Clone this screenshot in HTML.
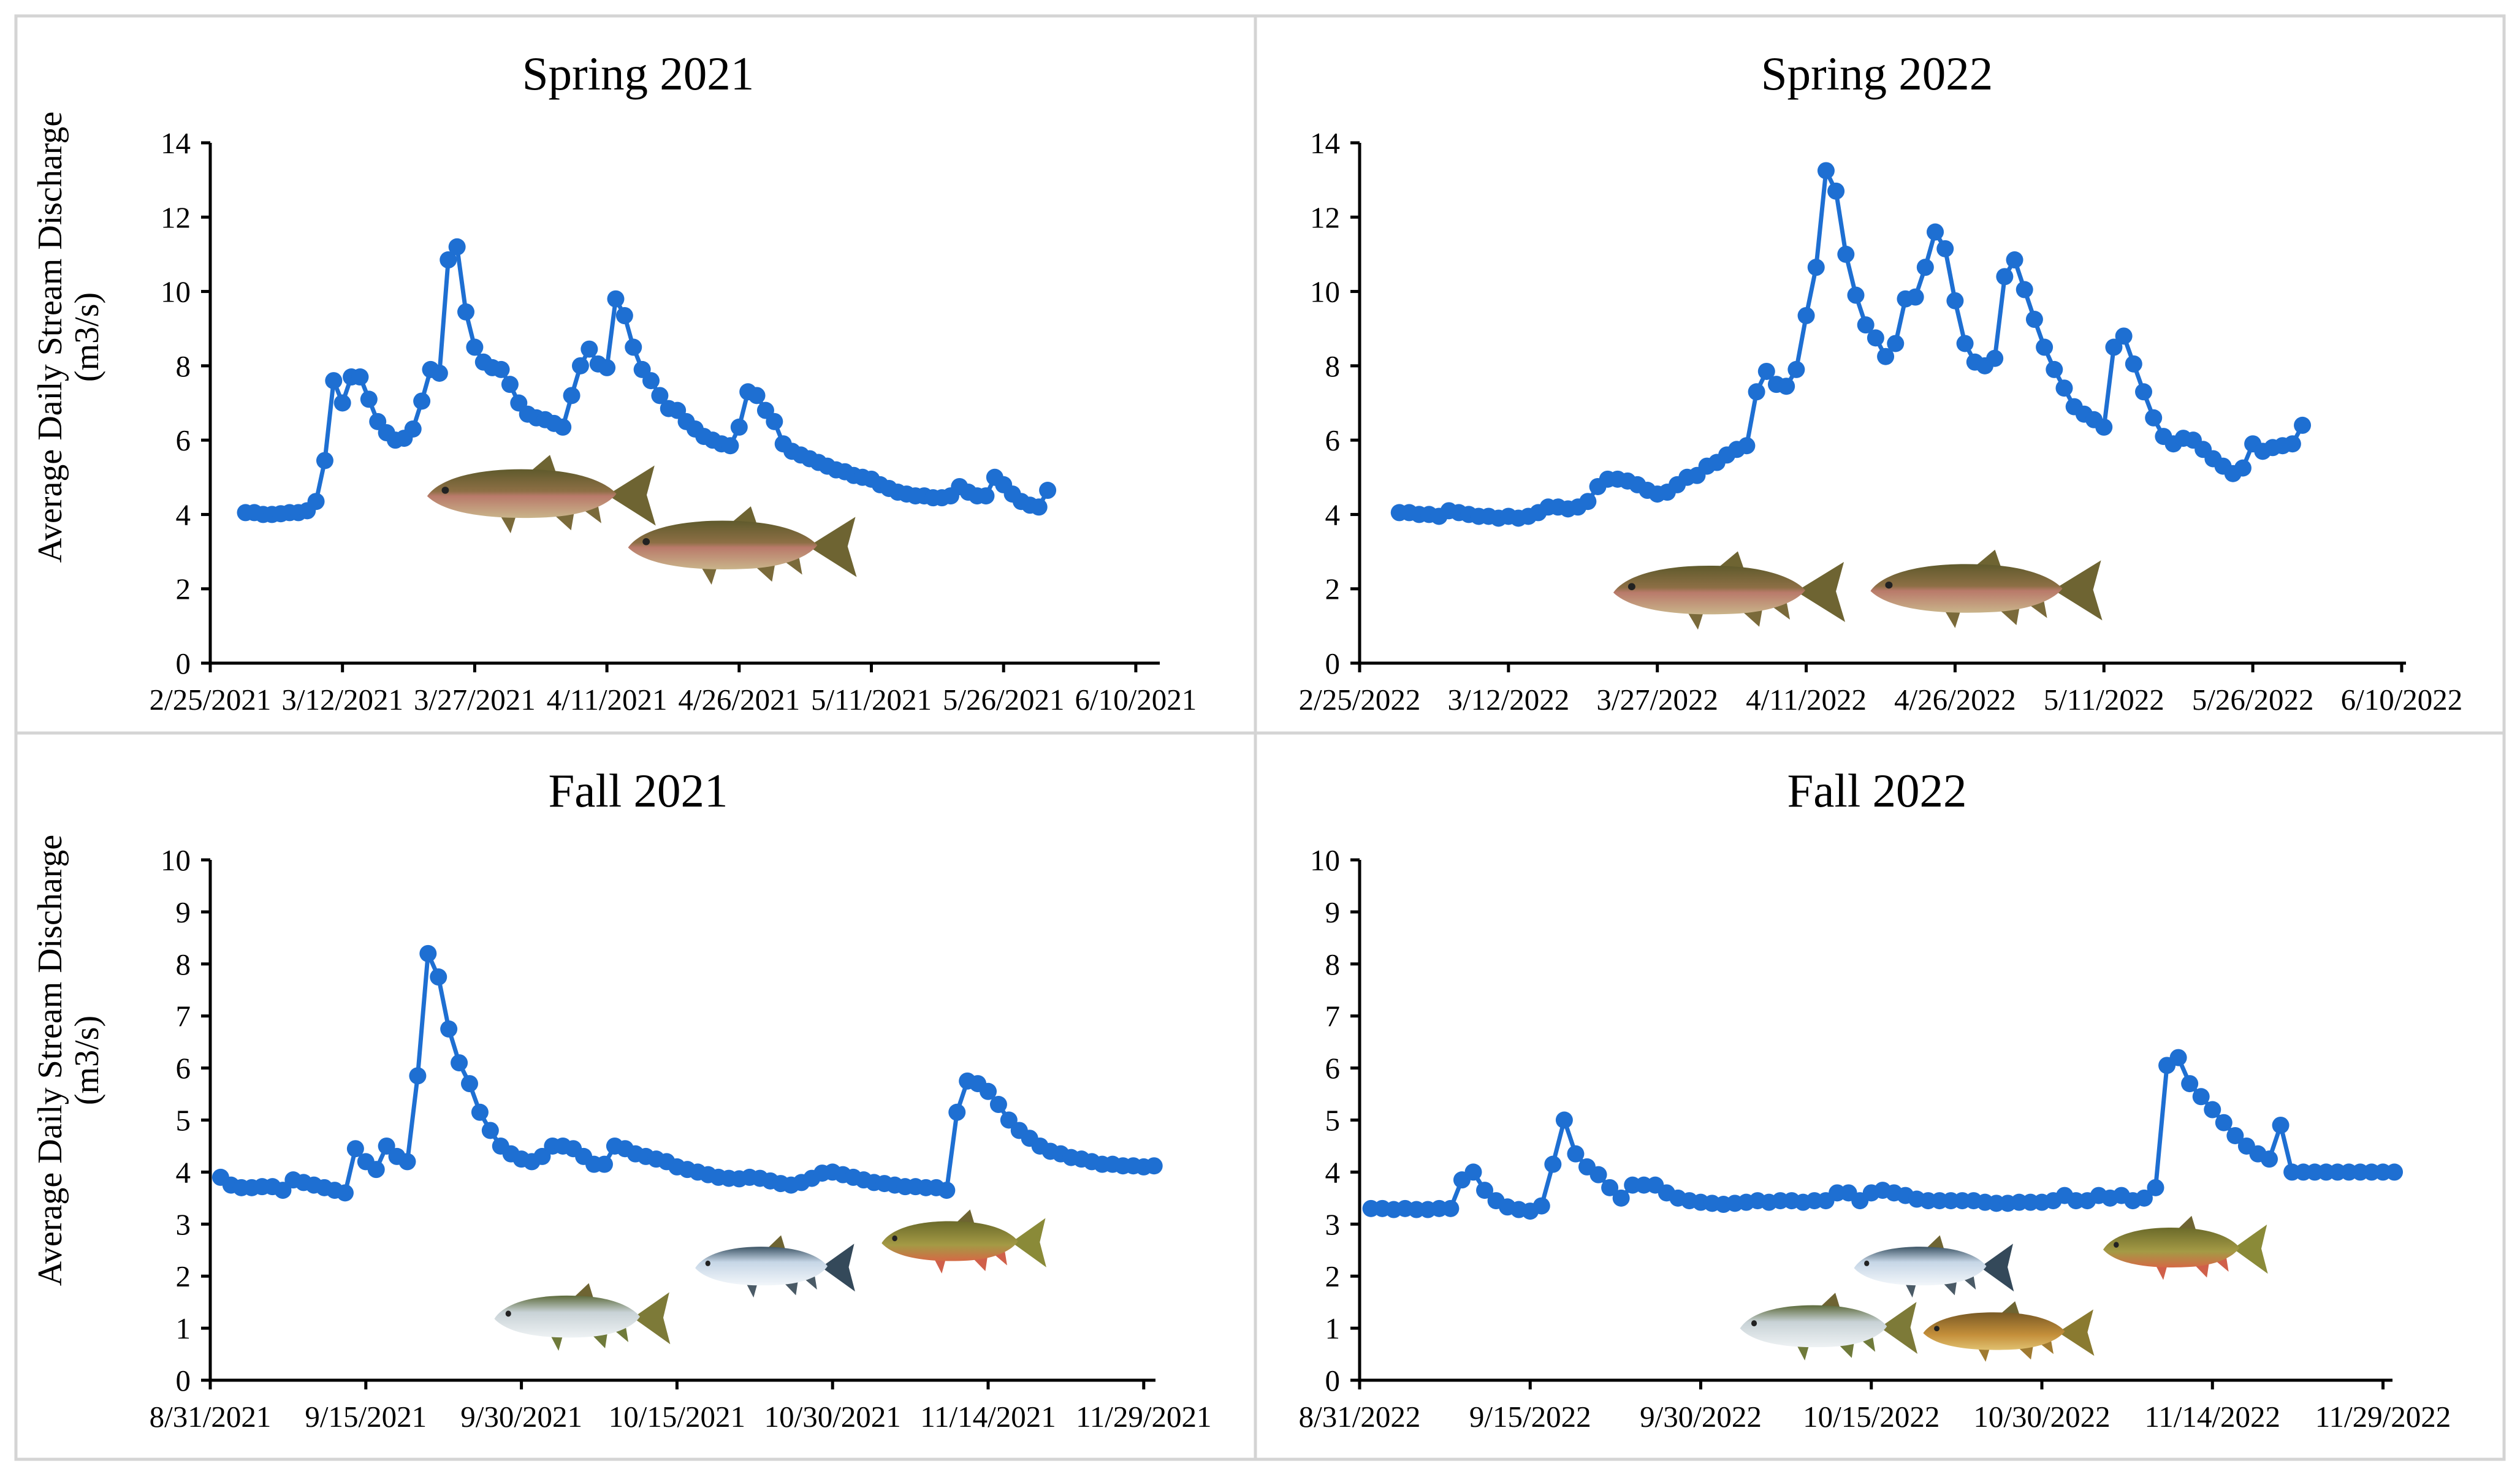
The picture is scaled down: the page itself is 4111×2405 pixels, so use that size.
<!DOCTYPE html>
<html><head><meta charset="utf-8"><style>
html,body{margin:0;padding:0;background:#fff;}
svg{display:block;font-family:"Liberation Serif",serif;}
</style></head><body>
<svg id="fig" width="4111" height="2405" viewBox="0 0 4111 2405" xmlns="http://www.w3.org/2000/svg">
<defs>
<linearGradient id="gTrout" x1="0" y1="0" x2="0" y2="1"><stop offset="0" stop-color="#5f5a2c"/><stop offset="0.45" stop-color="#8d6f45"/><stop offset="0.55" stop-color="#b97a6a"/><stop offset="1" stop-color="#c9b48a"/></linearGradient>
<linearGradient id="gSilver" x1="0" y1="0" x2="0" y2="1"><stop offset="0" stop-color="#5d6b3c"/><stop offset="0.4" stop-color="#c8d2d6"/><stop offset="1" stop-color="#eef2f4"/></linearGradient>
<linearGradient id="gBlue" x1="0" y1="0" x2="0" y2="1"><stop offset="0" stop-color="#3d5566"/><stop offset="0.4" stop-color="#c6d6e6"/><stop offset="1" stop-color="#f2f6fa"/></linearGradient>
<linearGradient id="gBrook" x1="0" y1="0" x2="0" y2="1"><stop offset="0" stop-color="#6b6a2a"/><stop offset="0.6" stop-color="#a49a45"/><stop offset="1" stop-color="#d46a45"/></linearGradient>
<linearGradient id="gBrown" x1="0" y1="0" x2="0" y2="1"><stop offset="0" stop-color="#7a5a25"/><stop offset="0.6" stop-color="#c48f3a"/><stop offset="1" stop-color="#e0c070"/></linearGradient>
</defs>
<g stroke="#d4d4d4" stroke-width="5" fill="none">
<rect x="26" y="26" width="4059" height="2355"/>
<line x1="2048" y1="26" x2="2048" y2="2381"/>
<line x1="26" y1="1196" x2="4085" y2="1196"/>
</g>
<g id="charts"></g>
</svg>
<script>
// ---- Spring 2021 (day index from 2/25/2021) ----
const s21Days = [];
for (let d = 4; d <= 95; d++) s21Days.push(d);
const s21Values = [4.05,4.05,4.0,4.0,4.02,4.05,4.05,4.1,4.35,5.45,
7.6,7.0,7.7,7.7,7.1,6.5,6.2,6.0,6.05,6.3,7.05,7.9,7.8,10.85,11.2,
9.45,8.5,8.1,7.95,7.9,7.5,7.0,6.7,6.6,6.55,6.45,6.35,7.2,8.0,8.45,8.05,7.95,9.8,9.35,8.5,7.9,7.6,7.2,6.85,6.8,6.5,6.3,6.1,6.0,5.9,5.85,6.35,7.3,7.2,6.8,6.5,5.9,5.7,
5.6,5.5,5.4,5.3,5.2,5.15,5.05,5.0,4.95,4.8,4.7,4.6,4.55,4.5,4.5,4.45,4.45,4.5,4.75,4.6,4.5,4.5,
5.0,4.8,4.55,4.35,4.25,4.2,4.65];
// ---- Spring 2022 ----
const s22Days = [];
for (let d = 4; d <= 95; d++) s22Days.push(d);
const s22Values = [4.05,4.05,4.0,4.0,3.95,4.1,4.05,4.0,3.95,3.95,3.9,3.95,3.9,3.95,4.05,4.2,4.2,4.15,4.2,4.35,
4.75,4.95,4.95,4.9,4.8,4.65,4.55,4.6,4.8,5.0,5.05,5.3,5.4,5.6,5.75,5.85,
7.3,7.85,7.5,7.45,7.9,9.35,10.65,13.25,12.7,11.0,9.9,9.1,8.75,8.25,8.6,9.8,9.85,10.65,11.6,11.15,9.75,8.6,8.1,8.0,8.2,10.4,10.85,10.05,9.25,8.5,7.9,7.4,6.9,6.7,6.55,6.35,
8.5,8.8,8.05,7.3,6.6,6.1,5.9,6.05,6.0,5.75,5.5,5.3,5.1,5.25,5.9,5.7,5.8,5.85,5.9,6.4];
// ---- Fall 2021 (day index from 8/31/2021) ----
const f21Days = [];
for (let d = 1; d <= 91; d++) f21Days.push(d);
const f21Values = [3.9,3.75,3.7,3.7,3.72,3.72,3.65,3.85,3.8,3.75,3.7,3.65,3.6,
4.45,4.2,4.05,4.5,4.3,4.2,5.85,8.2,7.75,6.75,6.1,5.7,5.15,4.8,4.5,4.35,4.25,4.2,4.3,4.5,4.5,4.45,4.3,4.15,4.15,4.5,4.45,4.35,4.3,
4.25,4.2,4.1,4.05,4.0,3.95,3.9,3.88,3.87,3.9,3.88,3.83,3.78,3.75,3.8,3.88,3.98,4.0,
3.95,3.9,3.85,3.8,3.78,3.75,3.72,3.72,3.7,3.7,3.65,
5.15,5.75,5.7,5.55,5.3,5.0,4.8,4.65,4.5,4.4,4.35,4.28,4.25,4.2,4.15,4.15,4.12,4.12,4.1,4.12];
// ---- Fall 2022 ----
const f22Days = [];
for (let d = 1; d <= 91; d++) f22Days.push(d);
const f22Values = [3.3,3.3,3.28,3.3,3.28,3.28,3.3,3.3,3.85,4.0,3.65,3.45,3.33,3.28,3.25,3.35,4.15,5.0,
4.35,4.1,3.95,3.7,3.5,3.75,3.75,3.75,3.6,3.5,3.45,3.42,3.4,3.38,3.4,3.42,3.45,3.42,3.45,3.45,3.42,3.45,3.45,3.6,3.6,3.45,3.6,3.65,3.6,3.55,3.48,3.45,3.45,3.45,3.45,3.45,3.42,3.4,3.4,3.42,3.42,3.42,3.45,3.55,3.45,3.45,3.55,3.5,3.55,3.45,3.5,3.7,
6.05,6.2,5.7,5.45,5.2,4.95,4.7,4.5,4.35,4.25,4.9,4.0,4.0,4.0,4.0,4.0,4.0,4.0,4.0,4.0,4.0];
const springTicks = [0,2,4,6,8,10,12,14];
const fallTicks = [0,1,2,3,4,5,6,7,8,9,10];
const s21Labels = ["2/25/2021","3/12/2021","3/27/2021","4/11/2021","4/26/2021","5/11/2021","5/26/2021","6/10/2021"];
const s22Labels = ["2/25/2022","3/12/2022","3/27/2022","4/11/2022","4/26/2022","5/11/2022","5/26/2022","6/10/2022"];
const f21Labels = ["8/31/2021","9/15/2021","9/30/2021","10/15/2021","10/30/2021","11/14/2021","11/29/2021"];
const f22Labels = ["8/31/2022","9/15/2022","9/30/2022","10/15/2022","10/30/2022","11/14/2022","11/29/2022"];

const NS = "http://www.w3.org/2000/svg";
const root = document.getElementById('charts');
function mk(tag, attrs, parent){ const e=document.createElementNS(NS,tag); for(const k in attrs) e.setAttribute(k,attrs[k]); (parent||root).appendChild(e); return e; }

function chart(cfg){
  const g = mk('g',{});
  
  
  const xs = d => cfg.x0 + d*cfg.pxDay;
  const ys = v => cfg.y0 - (v/cfg.yMax)*(cfg.y0-cfg.yTop);
  const t = mk('text',{x:cfg.titleX,y:cfg.titleY,'font-size':77,'text-anchor':'middle',fill:'#000'},g);
  t.textContent = cfg.title;
  
  
  const ax = mk('path',{d:`M${cfg.x0} ${cfg.yTop} L${cfg.x0} ${cfg.y0} L${cfg.xEnd} ${cfg.y0}`,stroke:'#000','stroke-width':5,fill:'none'},g);
  
  
  cfg.yTicks.forEach(v=>{
    const y=ys(v);
    mk('line',{x1:cfg.x0-15,y1:y,x2:cfg.x0,y2:y,stroke:'#000','stroke-width':5},g);
    const l=mk('text',{x:cfg.x0-32,y:y+17,'font-size':49,'text-anchor':'end',fill:'#000'},g);
    l.textContent=v;
    
    
  });
  cfg.xLabels.forEach((s,i)=>{
    const x=xs(i*15);
    mk('line',{x1:x,y1:cfg.y0,x2:x,y2:cfg.y0+15,stroke:'#000','stroke-width':5},g);
    const l=mk('text',{x:x,y:cfg.y0+76,'font-size':49,'text-anchor':'middle',fill:'#000'},g);
    l.textContent=s;
    
    
  });
  cfg.fish.forEach(f=>drawFish(g,f));
  let d='';
  cfg.days.forEach((dd,i)=>{ d += (i?'L':'M') + xs(dd).toFixed(1)+' '+ys(cfg.values[i]).toFixed(1)+' '; });
  const line=mk('path',{d:d,stroke:'#1e6fd2','stroke-width':7,fill:'none','stroke-linejoin':'round'},g);
  
  
  cfg.days.forEach((dd,i)=>{
    const c=mk('circle',{cx:xs(dd),cy:ys(cfg.values[i]),r:14,fill:'#1e6fd2'},g);
    
    
  });
  if(cfg.yTitle){
    const yt=mk('text',{transform:`translate(${cfg.yTitleX} ${cfg.yTitleY}) rotate(-90)`,'font-size':56,'text-anchor':'middle',fill:'#000'},g);
    
    
    const a=mk('tspan',{x:0,y:0},yt); a.textContent='Average Daily Stream Discharge';
    const b=mk('tspan',{x:0,y:60},yt); b.textContent='(m3/s)';
  }
}
function drawFish(parent,f){
  const g=mk('g',{transform:`translate(${f.x} ${f.y}) scale(${f.w/380} ${f.h/120})`},parent);
  
  
  mk('path',{d:'M175 18 L205 -8 L215 22 Z',fill:'#6e6432'},g);
  mk('path',{d:'M300 60 L378 10 L365 60 L380 112 Z',fill:f.tail},g);
  mk('path',{d:'M120 90 L140 125 L150 92 Z M210 92 L240 120 L245 90 Z M260 85 L290 108 L285 80 Z',fill:f.fin},g);
  mk('path',{d:'M2 62 C30 22 120 12 200 18 C260 22 300 40 315 58 C300 78 260 95 200 98 C120 102 35 95 2 62 Z',fill:`url(#${f.grad})`},g);
  mk('circle',{cx:32,cy:52,r:6,fill:'#222'},g);
}
const K=2.622;
const trout={grad:'gTrout',tail:'#6e6432',fin:'#7a6a3a'};
chart({name:'chart-spring-2021',title:'Spring 2021',titleX:1041,titleY:146,x0:343,pxDay:14.38,y0:1082,yTop:233,yMax:14,xEnd:1892,
  yTicks:springTicks,xLabels:s21Labels,days:s21Days,values:s21Values,yTitle:true,yTitleX:100,yTitleY:550,
  fish:[Object.assign({x:265*K,y:286*K,w:143*K,h:44*K},trout),Object.assign({x:390*K,y:318*K,w:143*K,h:44*K},trout)]});
chart({name:'chart-spring-2022',title:'Spring 2022',titleX:3062,titleY:146,x0:2218,pxDay:16.19,y0:1082,yTop:233,yMax:14,xEnd:3925,
  yTicks:springTicks,xLabels:s22Labels,days:s22Days,values:s22Values,yTitle:false,
  fish:[Object.assign({x:1003*K,y:346*K,w:145*K,h:44*K},trout),Object.assign({x:1163*K,y:345*K,w:145*K,h:44*K},trout)]});
chart({name:'chart-fall-2021',title:'Fall 2021',titleX:1041,titleY:1316,x0:343,pxDay:16.92,y0:2252,yTop:1403,yMax:10,xEnd:1885,
  yTicks:fallTicks,xLabels:f21Labels,days:f21Days,values:f21Values,yTitle:true,yTitleX:100,yTitleY:1730,
  fish:[{x:307*K,y:801*K,w:110*K,h:38*K,grad:'gSilver',tail:'#7d7a38',fin:'#6f7a3a'},
        {x:432*K,y:771*K,w:100*K,h:35*K,grad:'gBlue',tail:'#34495a',fin:'#4a5a66'},
        {x:548*K,y:755*K,w:103*K,h:36*K,grad:'gBrook',tail:'#8a8a38',fin:'#d0604a'}]});
chart({name:'chart-fall-2022',title:'Fall 2022',titleX:3062,titleY:1316,x0:2218,pxDay:18.55,y0:2252,yTop:1403,yMax:10,xEnd:3903,
  yTicks:fallTicks,xLabels:f22Labels,days:f22Days,values:f22Values,yTitle:false,
  fish:[{x:1153*K,y:771*K,w:100*K,h:35*K,grad:'gBlue',tail:'#34495a',fin:'#4a5a66'},
        {x:1308*K,y:759*K,w:103*K,h:36*K,grad:'gBrook',tail:'#8a8a38',fin:'#d0604a'},
        {x:1082*K,y:807*K,w:111*K,h:38*K,grad:'gSilver',tail:'#7d7a38',fin:'#6f7a3a'},
        {x:1196*K,y:812*K,w:107*K,h:34*K,grad:'gBrown',tail:'#8a7a30',fin:'#a07a30'}]});
</script>
</body></html>
